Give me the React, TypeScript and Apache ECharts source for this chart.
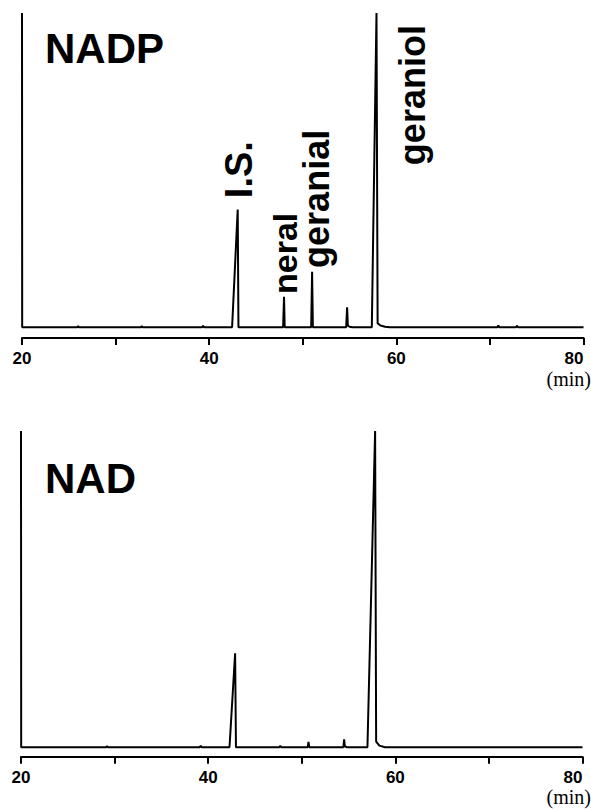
import React, { useEffect, useRef } from "react";
import * as echarts from "echarts";

// x axis (retention time, min)
const xMin = 20;
const xMax = 80;
const xInterval = 10;
const xLabelValues = [20, 40, 60, 80];

// chromatogram traces: [time (min), detector response (% of full scale)]
const nadpTrace: [number, number][] = [
  [20.0, 100], [20.02, 0], [25.9, 0], [26.0, 0.4], [26.1, 0],
  [32.7, 0], [32.8, 0.4], [32.9, 0], [39.25, 0], [39.35, 0.5], [39.45, 0],
  [42.45, 0], [43.05, 37.5], [43.13, 0],
  [47.9, 0], [48.0, 9.7], [48.07, 0],
  [50.9, 0], [51.0, 17.7], [51.08, 0],
  [54.64, 0], [54.74, 6.4], [54.82, 0.5], [55.0, 0.2], [55.3, 0],
  [57.38, 0], [57.88, 100], [58.0, 1.3], [58.3, 0.6], [58.8, 0.2], [59.3, 0],
  [70.8, 0], [70.9, 0.6], [71.0, 0], [72.8, 0], [72.9, 0.5], [73.0, 0],
  [80, 0],
];

const nadTrace: [number, number][] = [
  [20.0, 100], [20.02, 0], [29.1, 0], [29.2, 0.3], [29.3, 0],
  [39.1, 0], [39.2, 0.4], [39.3, 0],
  [42.28, 0], [42.88, 29.7], [42.97, 0],
  [47.6, 0], [47.7, 0.4], [47.8, 0],
  [50.64, 0], [50.72, 1.7], [50.8, 0],
  [54.45, 0], [54.53, 2.5], [54.6, 0.3], [54.8, 0],
  [57.02, 0], [57.84, 100], [57.95, 1.8], [58.3, 0.5], [58.9, 0],
  [80, 0],
];

// y ranges (baseline sits a little above the time axis)
const nadpYMin = -3.4;
const nadYMin = -3.0;
const yMax = 100;

// panel titles
const panelTitles = ["NADP", "NAD"];

// peak labels in the NADP panel (anchor in data coordinates)
const nadpPeakNames = ["I.S.", "neral", "geranial", "geraniol"];
const nadpLabelTimes = [43.23, 48.1, 51.43, 61.74];
const nadpLabelValues = [41.1, 10.6, 18.9, 51.6];
const nadpLabelSizes = [38, 34, 36, 36];

const SANS = "'Liberation Sans', Arial, Helvetica, sans-serif";
const SERIF = "'Liberation Serif', 'Times New Roman', serif";

function makeXAxis(gridIndex: number) {
  return {
    type: "value",
    gridIndex,
    min: xMin,
    max: xMax,
    interval: xInterval,
    axisLine: { show: true, onZero: false, lineStyle: { color: "#000", width: 2 } },
    axisTick: { show: true, inside: false, length: 7, lineStyle: { color: "#000", width: 2 } },
    axisLabel: {
      show: true,
      margin: 12,
      color: "#000",
      fontSize: 17,
      fontWeight: "bold",
      fontFamily: SANS,
      alignMaxLabel: "right",
      formatter: (v: number) => (xLabelValues.includes(v) ? String(v) : ""),
    },
    splitLine: { show: false },
  };
}

export default function App() {
  const ref = useRef<HTMLDivElement>(null);

  useEffect(() => {
    document.body.style.margin = "0";
    if (!ref.current) return;
    const chart = echarts.init(ref.current, undefined, { renderer: "svg" });

    chart.setOption({
      animation: false,
      backgroundColor: "#fff",
      grid: [
        { left: 22, right: 7.5, top: 13, height: 325 },
        { left: 21, right: 8.5, top: 431, height: 325.7 },
      ],
      xAxis: [makeXAxis(0), makeXAxis(1)],
      yAxis: [
        { type: "value", gridIndex: 0, min: nadpYMin, max: yMax, show: false },
        { type: "value", gridIndex: 1, min: nadYMin, max: yMax, show: false },
      ],
      series: [
        {
          type: "line",
          name: panelTitles[0],
          xAxisIndex: 0,
          yAxisIndex: 0,
          data: nadpTrace,
          symbol: "none",
          showSymbol: false,
          silent: true,
          lineStyle: { color: "#000", width: 2 },
        },
        {
          type: "line",
          name: panelTitles[1],
          xAxisIndex: 1,
          yAxisIndex: 1,
          data: nadTrace,
          symbol: "none",
          showSymbol: false,
          silent: true,
          lineStyle: { color: "#000", width: 2 },
        },
      ],
    });

    const axis0Y = 338;
    const axis1Y = 756.7;

    const peakLabels = nadpPeakNames.map((name, i) => {
      const p = chart.convertToPixel({ gridIndex: 0 }, [nadpLabelTimes[i], nadpLabelValues[i]]) as number[];
      return {
        type: "text",
        x: p[0],
        y: p[1],
        rotation: Math.PI / 2,
        silent: true,
        style: {
          text: name,
          fill: "#000",
          font: `bold ${nadpLabelSizes[i]}px ${SANS}`,
          textAlign: "left",
          textVerticalAlign: "middle",
        },
      };
    });

    chart.setOption({
      graphic: [
        {
          type: "text",
          x: 45,
          y: 48.4,
          silent: true,
          style: {
            text: panelTitles[0],
            fill: "#000",
            font: `bold 42px ${SANS}`,
            textAlign: "left",
            textVerticalAlign: "middle",
          },
        },
        {
          type: "text",
          x: 45,
          y: 478.4,
          silent: true,
          style: {
            text: panelTitles[1],
            fill: "#000",
            font: `bold 42px ${SANS}`,
            textAlign: "left",
            textVerticalAlign: "middle",
          },
        },
        {
          type: "text",
          x: 591,
          y: axis0Y + 41,
          silent: true,
          style: {
            text: "(min)",
            fill: "#000",
            font: `20px ${SERIF}`,
            textAlign: "right",
            textVerticalAlign: "middle",
          },
        },
        {
          type: "text",
          x: 591,
          y: axis1Y + 40,
          silent: true,
          style: {
            text: "(min)",
            fill: "#000",
            font: `20px ${SERIF}`,
            textAlign: "right",
            textVerticalAlign: "middle",
          },
        },
        ...peakLabels,
      ],
    });

    return () => {
      chart.dispose();
    };
  }, []);

  return <div ref={ref} style={{ width: 591, height: 810 }} />;
}
